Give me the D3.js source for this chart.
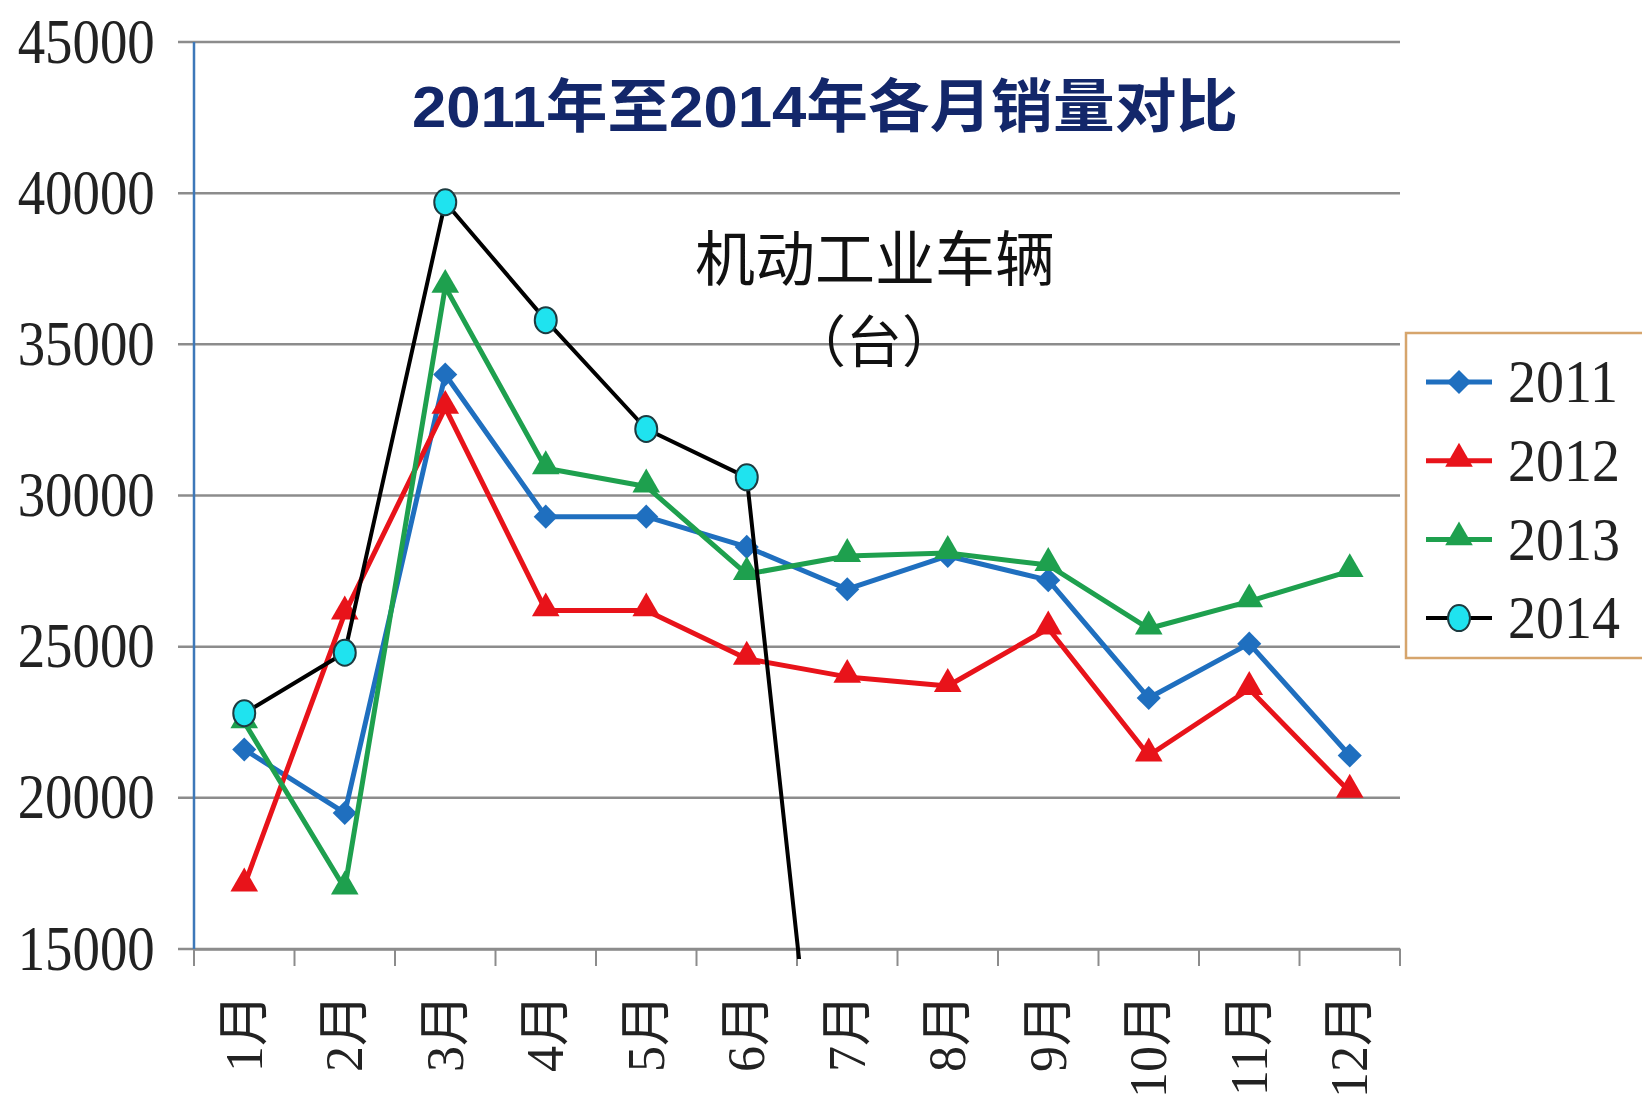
<!DOCTYPE html>
<html><head><meta charset="utf-8">
<script src="https://cdn.jsdelivr.net/npm/d3@7"></script>
<style>html,body{margin:0;padding:0;background:#fff;}svg{display:block;}</style>
</head><body>
<script>
const months = ["1月","2月","3月","4月","5月","6月","7月","8月","9月","10月","11月","12月"];
const years = ["2011","2012","2013","2014"];
const v2011 = [21600,19500,34000,29300,29300,28300,26900,28000,27200,23300,25100,21400];
const v2012 = [17100,26100,32900,26200,26200,24600,24000,23700,25600,21400,23600,20200];
const v2013 = [22500,17000,36900,30900,30300,27400,28000,28100,27700,25600,26500,27500];
const v2014 = [22800,24800,39700,35800,32200,30600,0];
const yTicks = [15000,20000,25000,30000,35000,40000,45000];
const titleText = "2011年至2014年各月销量对比";
const subTitle1 = "机动工业车辆";
const subTitle2 = "（台）";

const W = 1642, H = 1110;
const svg = d3.select("body").append("svg").attr("width", W).attr("height", H);

const x = d3.scaleBand().domain(months).range([194, 1400]).paddingInner(0).paddingOuter(0);
const y = d3.scaleLinear().domain([15000, 45000]).range([949, 42]);

// grid lines
svg.append("g").selectAll("line").data(yTicks).join("line")
  .attr("x1", 178).attr("x2", 1400)
  .attr("y1", d => y(d)).attr("y2", d => y(d))
  .attr("stroke", "#8c8c8c").attr("stroke-width", 2.5);

// y labels
const yAxis = svg.append("g").attr("transform", "translate(194,0)")
  .call(d3.axisLeft(y).tickValues(yTicks).tickSize(0).tickPadding(40).tickFormat(d3.format("d")));
yAxis.select(".domain").remove();
yAxis.selectAll("text").attr("font-family", "'Liberation Serif', serif")
  .attr("font-size", 56).attr("fill", "#222").attr("transform", "scale(0.98,1.12)");

// x axis
const xAxis = svg.append("g").attr("transform", `translate(0,${y(15000)})`)
  .call(d3.axisBottom(x).tickSize(0).tickFormat(""));
xAxis.select(".domain").attr("stroke", "#8c8c8c").attr("stroke-width", 2.5);
const bounds = [194].concat(months.map(m => x(m) + x.bandwidth()));
svg.append("g").selectAll("line").data(bounds).join("line")
  .attr("x1", d => d).attr("x2", d => d)
  .attr("y1", y(15000)).attr("y2", y(15000) + 17)
  .attr("stroke", "#8c8c8c").attr("stroke-width", 2);

svg.append("g").selectAll("text").data(months).join("text")
  .attr("transform", d => `translate(${x(d) + x.bandwidth()/2},994) rotate(-90)`)
  .attr("text-anchor", "end").attr("dominant-baseline", "central")
  .attr("font-family", "'Liberation Serif', 'Noto Sans CJK SC', serif")
  .attr("font-size", 52).attr("fill", "#222")
  .text(d => d);

// y axis line
svg.append("line").attr("x1", 194).attr("x2", 194).attr("y1", y(45000)).attr("y2", y(15000))
  .attr("stroke", "#3d78b9").attr("stroke-width", 2.5);

// title
svg.append("text").attr("x", 825).attr("y", 127).attr("text-anchor", "middle")
  .attr("font-family", "'Liberation Sans', 'Noto Sans CJK SC', sans-serif")
  .attr("font-weight", "bold").attr("font-size", 58).attr("fill", "#13276a")
  .attr("textLength", 826).attr("lengthAdjust", "spacingAndGlyphs")
  .text(titleText);

svg.append("text").attr("x", 875).attr("y", 281).attr("text-anchor", "middle")
  .attr("font-family", "'Noto Sans CJK SC', sans-serif").attr("fill", "#111")
  .attr("font-size", 60).text(subTitle1);
svg.append("text").attr("x", 874).attr("y", 362).attr("text-anchor", "middle")
  .attr("font-family", "'Noto Sans CJK SC', sans-serif").attr("fill", "#111")
  .attr("font-size", 56).text(subTitle2);

// clip
svg.append("clipPath").attr("id", "plotclip").append("rect")
  .attr("x", 0).attr("y", 0).attr("width", W).attr("height", y(15000) + 10);

const series = [
  {name: years[0], values: v2011, color: "#1f6fbf", width: 5, marker: "diamond"},
  {name: years[1], values: v2012, color: "#e8131a", width: 5, marker: "triangle"},
  {name: years[2], values: v2013, color: "#1ea04e", width: 5, marker: "triangle"},
  {name: years[3], values: v2014, color: "#000000", width: 4, marker: "circle"}
];

const cx = m => x(m) + x.bandwidth()/2;
const line = d3.line().x((d, i) => cx(months[i])).y(d => y(d));

const diamondPath = d3.symbol().type(d3.symbolSquare).size(290)();
const trianglePath = d3.symbol().type(d3.symbolTriangle).size(330)();

function drawMarker(g, s, px, py) {
  if (s.marker === "diamond") {
    g.append("path").attr("d", diamondPath)
      .attr("transform", `translate(${px},${py}) rotate(45)`).attr("fill", s.color);
  } else if (s.marker === "triangle") {
    g.append("path").attr("d", trianglePath)
      .attr("transform", `translate(${px},${py - 2})`).attr("fill", s.color);
  } else {
    g.append("ellipse").attr("cx", px).attr("cy", py).attr("rx", 11).attr("ry", 13)
      .attr("fill", "#1fe3ef").attr("stroke", "#1d3b40").attr("stroke-width", 2);
  }
}

series.forEach(s => {
  const g = svg.append("g").attr("clip-path", "url(#plotclip)");
  g.append("path").datum(s.values).attr("d", line)
    .attr("fill", "none").attr("stroke", s.color).attr("stroke-width", s.width)
    .attr("stroke-linejoin", "round");
  s.values.forEach((v, i) => {
    if (v >= 15000) drawMarker(g, s, cx(months[i]), y(v));
  });
});

// legend
const lg = svg.append("g");
lg.append("rect").attr("x", 1406).attr("y", 333).attr("width", 260).attr("height", 325)
  .attr("fill", "#fff").attr("stroke", "#d6a56c").attr("stroke-width", 2.5);
series.forEach((s, i) => {
  const ly = 382 + i * 78.7;
  lg.append("line").attr("x1", 1426).attr("x2", 1492).attr("y1", ly).attr("y2", ly)
    .attr("stroke", s.color).attr("stroke-width", s.width);
  drawMarker(lg, s, 1459, ly);
  lg.append("text").attr("x", 1508).attr("y", ly).attr("dominant-baseline", "central")
    .attr("font-family", "'Liberation Serif', serif").attr("font-size", 56).attr("fill", "#222")
    .attr("transform", `translate(0,${ly}) scale(1,1.1) translate(0,${-ly})`)
    .text(s.name);
});
</script>
</body></html>
